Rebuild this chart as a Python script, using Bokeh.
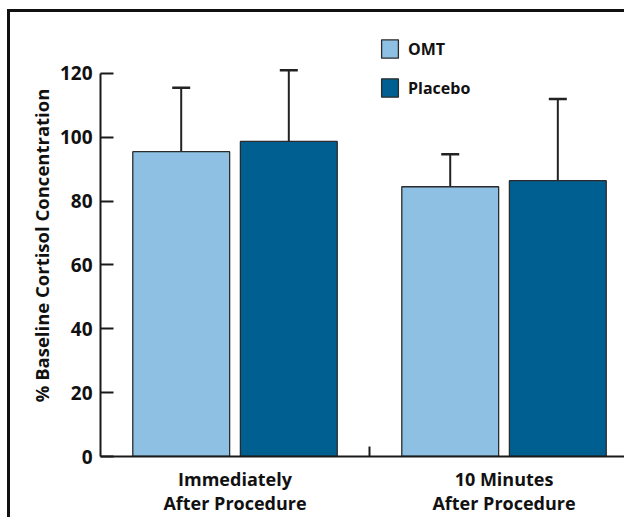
from bokeh.plotting import figure
from bokeh.models import (Range1d, FixedTicker, Legend, LegendItem, Whisker,
                          TeeHead, ColumnDataSource)
from bokeh.embed import file_html
from bokeh.resources import INLINE

# ---- data ----
categories = ["Immediately\nAfter Procedure", "10 Minutes\nAfter Procedure"]
series = ["OMT", "Placebo"]
omt_mean = [95.5, 84.5]
omt_upper = [115.5, 94.7]
placebo_mean = [98.7, 86.4]
placebo_upper = [121.0, 112.0]
y_ticks = [0, 20, 40, 60, 80, 100, 120]
colors = ["#8DC0E2", "#005F91"]

FONT = "Open Sans"

p = figure(width=617, height=508, output_backend="svg", toolbar_location=None,
           x_range=Range1d(0, 1.959), y_range=Range1d(0, 132.2),
           min_border_left=90, min_border_right=0, min_border_top=22,
           min_border_bottom=64)
p.outline_line_color = None
p.xgrid.visible = False
p.ygrid.visible = False
p.background_fill_color = "white"
p.border_fill_color = "white"
p.styles = {"border-top": "3px solid #111111", "border-left": "3px solid #111111",
            "margin-left": "7px", "margin-top": "9px"}

centers = [i + 0.5 for i in range(len(categories))]
dodge = 0.2
bw = 0.36

src_omt = ColumnDataSource(dict(x=[c - dodge for c in centers], top=omt_mean, up=omt_upper))
src_pla = ColumnDataSource(dict(x=[c + dodge for c in centers], top=placebo_mean, up=placebo_upper))

r1 = p.vbar(x="x", top="top", width=bw, source=src_omt, fill_color=colors[0],
            line_color="#2b2b2b", line_width=1.3)
r2 = p.vbar(x="x", top="top", width=bw, source=src_pla, fill_color=colors[1],
            line_color="#2b2b2b", line_width=1.3)

for src in (src_omt, src_pla):
    w = Whisker(base="x", lower="top", upper="up", source=src,
                line_color="#222222", line_width=2,
                lower_head=None,
                upper_head=TeeHead(size=18, line_color="#222222", line_width=2.5))
    p.add_layout(w)

# y axis
ya = p.yaxis[0]
ya.ticker = FixedTicker(ticks=y_ticks)
ya.bounds = (0, 120)
ya.axis_line_width = 2
ya.axis_line_color = "#1a1a1a"
ya.major_tick_in = 13
ya.major_tick_out = 0
ya.major_tick_line_width = 2
ya.major_tick_line_color = "#1a1a1a"
ya.minor_tick_line_color = None
ya.major_label_standoff = 8
ya.major_label_text_font = FONT
ya.major_label_text_font_style = "bold"
ya.major_label_text_font_size = "19px"
ya.major_label_text_color = "#111111"
ya.axis_label = "% Baseline Cortisol Concentration"
ya.axis_label_text_font = FONT
ya.axis_label_text_font_style = "bold"
ya.axis_label_text_font_size = "18.5px"
ya.axis_label_text_color = "#111111"
ya.axis_label_standoff = 3

# x axis
xa = p.xaxis[0]
xa.ticker = FixedTicker(ticks=centers, minor_ticks=[1.0])
xa.major_label_overrides = {c: lab for c, lab in zip(centers, categories)}
xa.axis_line_width = 2
xa.axis_line_color = "#1a1a1a"
xa.major_tick_line_color = None
xa.major_tick_out = 0
xa.major_tick_in = 0
xa.minor_tick_in = 10
xa.minor_tick_out = 0
xa.minor_tick_line_width = 2
xa.minor_tick_line_color = "#1a1a1a"
xa.major_label_standoff = 10
xa.major_label_text_font = FONT
xa.major_label_text_font_style = "bold"
xa.major_label_text_font_size = "18px"
xa.major_label_text_line_height = 1.0
xa.major_label_text_color = "#111111"

legend = Legend(items=[LegendItem(label=series[0], renderers=[r1]),
                       LegendItem(label=series[1], renderers=[r2])],
                location=(279, 357), orientation="vertical",
                glyph_width=21, glyph_height=23, spacing=16, padding=0, margin=0,
                label_standoff=8, label_text_font=FONT, label_text_font_style="bold",
                label_text_font_size="16px", label_text_color="#111111",
                background_fill_alpha=0, border_line_color=None)
p.add_layout(legend)

open("out.html", "w").write(file_html(p, INLINE))
